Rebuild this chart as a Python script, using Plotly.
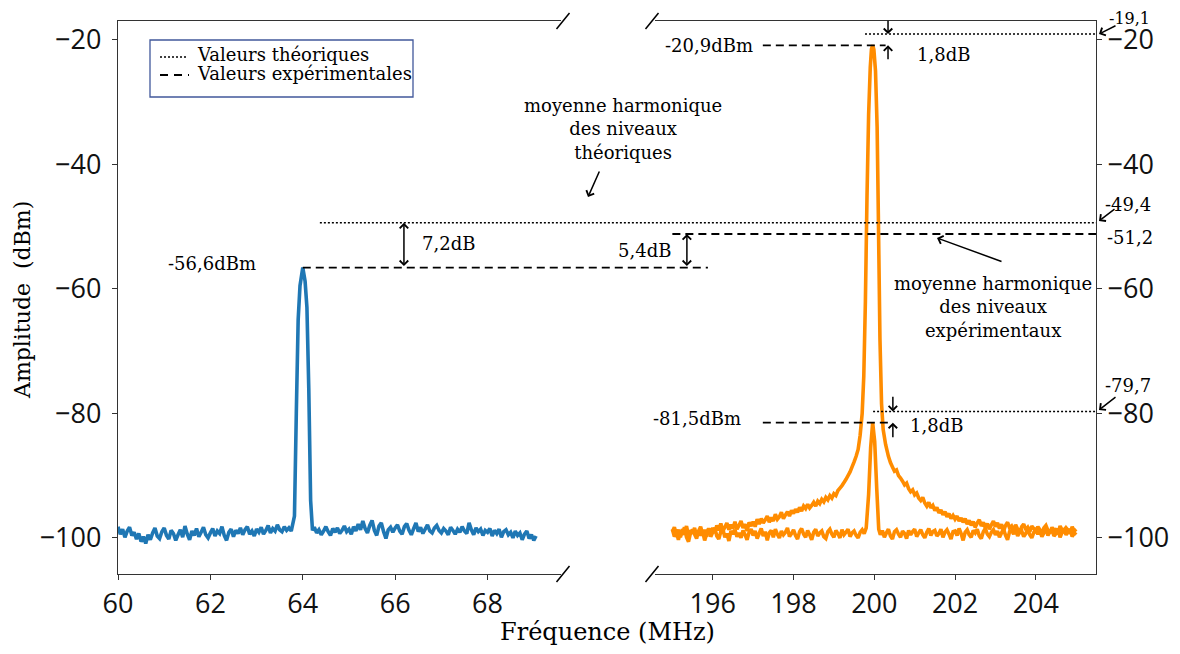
import plotly.graph_objects as go

# ---------------- data ----------------
blue_x = [60.0, 60.05, 60.1, 60.15, 60.2, 60.25, 60.3, 60.35, 60.4, 60.45,
          60.5, 60.55, 60.6, 60.65, 60.7, 60.75, 60.8, 60.85, 60.9, 60.95,
          61.0, 61.05, 61.1, 61.15, 61.2, 61.25, 61.3, 61.35, 61.4, 61.45,
          61.5, 61.55, 61.6, 61.65, 61.7, 61.75, 61.8, 61.85, 61.9, 61.95,
          62.0, 62.05, 62.1, 62.15, 62.2, 62.25, 62.3, 62.35, 62.4, 62.45,
          62.5, 62.55, 62.6, 62.65, 62.7, 62.75, 62.8, 62.85, 62.9, 62.95,
          63.0, 63.05, 63.1, 63.15, 63.2, 63.25, 63.3, 63.35, 63.4, 63.45,
          63.5, 63.55, 63.6, 63.65, 63.7, 63.75,
          63.82, 63.86, 63.90, 63.94, 64.00, 64.05, 64.09, 64.13, 64.17, 64.21,
          64.25, 64.3, 64.35, 64.4, 64.45, 64.5, 64.55, 64.6, 64.65, 64.7,
          64.75, 64.8, 64.85, 64.9, 64.95,
          65.0, 65.05, 65.1, 65.15, 65.2, 65.25, 65.3, 65.35, 65.4, 65.45,
          65.5, 65.55, 65.6, 65.65, 65.7, 65.75, 65.8, 65.85, 65.9, 65.95,
          66.0, 66.05, 66.1, 66.15, 66.2, 66.25, 66.3, 66.35, 66.4, 66.45,
          66.5, 66.55, 66.6, 66.65, 66.7, 66.75, 66.8, 66.85, 66.9, 66.95,
          67.0, 67.05, 67.1, 67.15, 67.2, 67.25, 67.3, 67.35, 67.4, 67.45,
          67.5, 67.55, 67.6, 67.65, 67.7, 67.75, 67.8, 67.85, 67.9, 67.95,
          68.0, 68.05, 68.1, 68.15, 68.2, 68.25, 68.3, 68.35, 68.4, 68.45,
          68.5, 68.55, 68.6, 68.65, 68.7, 68.75, 68.8, 68.85, 68.9, 68.95,
          69.0, 69.05]
blue_y = [-98.2, -99.4, -98.6, -99.9, -98.9, -98.3, -99.6, -99.1, -100.2, -99.3,
          -100.6, -99.8, -100.9, -99.5, -100.3, -99.2, -98.4, -99.7, -100.1, -99.0,
          -98.4, -99.6, -100.2, -98.8, -99.3, -100.4, -99.5, -98.7, -99.9, -98.1,
          -99.4, -100.3, -98.9, -99.6, -98.5, -99.8, -99.1, -98.3, -99.5, -100.0,
          -99.2, -98.5, -99.7, -98.9, -99.3, -98.2, -99.6, -100.4, -99.1, -98.6,
          -99.8, -98.8, -99.3, -98.4, -99.5, -98.7, -98.2, -99.4, -98.9, -99.7,
          -98.6, -99.1, -98.3, -99.4, -98.8, -98.0, -99.2, -98.5, -98.9, -97.9,
          -98.7, -99.0, -98.2, -98.8, -98.4, -98.9,
          -96.5, -80.0, -65.0, -59.5, -56.6, -58.8, -63.0, -76.0, -94.0, -98.8,
          -98.3, -99.2, -98.7, -99.5, -98.9, -98.2, -99.0, -99.6, -98.5, -99.1,
          -98.4, -99.3, -98.8, -98.1, -99.0,
          -98.6, -99.4, -98.2, -98.9, -97.8, -98.7, -97.3, -98.5, -99.2, -98.0,
          -97.2, -98.8, -99.6, -98.1, -97.6, -99.0, -100.1, -98.7, -98.3, -99.1,
          -98.4, -97.9, -98.9, -99.4, -98.2, -97.7, -98.8, -99.5, -98.5, -97.6,
          -99.0, -98.3, -99.3, -98.6, -97.9, -98.9, -99.2, -98.4, -98.0, -98.8,
          -99.2, -98.5, -98.9, -99.5, -98.3, -98.8, -99.4, -98.6, -99.1, -98.2,
          -98.9, -99.3, -97.6, -98.7, -99.5, -98.4, -99.0, -98.6, -99.6, -98.8,
          -99.1, -98.5, -99.7, -98.8, -99.3, -98.6, -99.9, -99.0, -98.7, -99.5,
          -99.1, -100.0, -98.9, -99.6, -99.2, -100.3, -99.4, -98.9, -100.1, -99.5,
          -100.4, -99.7]

low_x = [195.0, 195.05, 195.1, 195.15, 195.2, 195.25, 195.3, 195.35, 195.4, 195.45,
         195.5, 195.55, 195.6, 195.65, 195.7, 195.75, 195.8, 195.85, 195.9, 195.95,
         196.0, 196.05, 196.1, 196.15, 196.2, 196.25, 196.3, 196.35, 196.4, 196.45,
         196.5, 196.55, 196.6, 196.65, 196.7, 196.75, 196.8, 196.85, 196.9, 196.95,
         197.0, 197.05, 197.1, 197.15, 197.2, 197.25, 197.3, 197.35, 197.4, 197.45,
         197.5, 197.55, 197.6, 197.65, 197.7, 197.75, 197.8, 197.85, 197.9, 197.95,
         198.0, 198.05, 198.1, 198.15, 198.2, 198.25, 198.3, 198.35, 198.4, 198.45,
         198.5, 198.55, 198.6, 198.65, 198.7, 198.75, 198.8, 198.85, 198.9, 198.95,
         199.0, 199.05, 199.1, 199.15, 199.2, 199.25, 199.3, 199.35, 199.4, 199.45,
         199.5, 199.55, 199.6, 199.65, 199.7, 199.75,
         199.8, 199.86, 199.91, 199.96, 200.01, 200.06, 200.11,
         200.15, 200.2, 200.25, 200.3, 200.35, 200.4, 200.45, 200.5, 200.55, 200.6,
         200.65, 200.7, 200.75, 200.8, 200.85, 200.9, 200.95,
         201.0, 201.05, 201.1, 201.15, 201.2, 201.25, 201.3, 201.35, 201.4, 201.45,
         201.5, 201.55, 201.6, 201.65, 201.7, 201.75, 201.8, 201.85, 201.9, 201.95,
         202.0, 202.05, 202.1, 202.15, 202.2, 202.25, 202.3, 202.35, 202.4, 202.45,
         202.5, 202.55, 202.6, 202.65, 202.7, 202.75, 202.8, 202.85, 202.9, 202.95,
         203.0, 203.05, 203.1, 203.15, 203.2, 203.25, 203.3, 203.35, 203.4, 203.45,
         203.5, 203.55, 203.6, 203.65, 203.7, 203.75, 203.8, 203.85, 203.9, 203.95,
         204.0, 204.05, 204.1, 204.15, 204.2, 204.25, 204.3, 204.35, 204.4, 204.45,
         204.5, 204.55, 204.6, 204.65, 204.7, 204.75, 204.8, 204.85, 204.9, 204.95, 205.0]
low_y = [-98.6, -99.8, -99.1, -100.3, -98.9, -99.5, -98.3, -99.9, -100.6, -99.2,
         -98.7, -99.4, -100.1, -98.8, -99.6, -99.0, -100.4, -99.3, -98.5, -99.8,
         -99.1, -98.4, -99.7, -100.2, -99.0, -98.6, -99.9, -99.3, -100.5, -98.9,
         -99.4, -98.7, -99.8, -99.2, -100.0, -98.8, -99.5, -100.3, -99.1, -98.6,
         -99.6, -98.9, -100.1, -99.3, -98.5, -99.7, -99.0, -100.4, -99.2, -98.8,
         -99.9, -98.6, -99.4, -100.0, -98.9, -99.5, -99.1, -98.4, -99.8, -99.3,
         -98.7, -99.6, -100.2, -99.0, -98.5, -99.4, -99.9, -98.8, -99.5, -100.3,
         -99.1, -98.6, -99.7, -99.2, -98.9, -99.8, -100.1, -99.0, -98.6, -99.4,
         -99.9, -98.8, -99.3, -100.0, -98.7, -99.5, -99.1, -98.6, -99.8, -99.2,
         -98.9, -99.6, -100.0, -99.1, -98.7, -99.3,
         -98.4, -93.0, -85.5, -81.5, -84.5, -92.0, -98.6,
         -99.5, -98.8, -99.9, -99.2, -98.6, -99.7, -100.2, -99.0, -98.7, -99.4,
         -99.9, -98.9, -99.3, -100.1, -98.8, -99.5, -99.0,
         -98.6, -99.8, -99.2, -98.7, -99.5, -100.0, -99.1, -98.5, -99.6, -99.0,
         -98.8, -99.7, -99.3, -98.6, -99.9, -99.1, -98.7, -99.4, -100.2, -99.0,
         -98.9, -99.6, -98.5, -99.3, -100.4, -99.1, -98.7, -99.5, -99.9, -98.8,
         -99.2, -98.6, -99.7, -100.1, -99.0, -98.5, -99.4, -99.8, -99.1, -98.7,
         -99.5, -98.9, -99.9, -99.2, -98.6, -99.6, -100.3, -99.0, -98.8, -99.4,
         -98.5, -99.7, -99.1, -98.9, -99.8, -99.3, -98.6, -99.5, -100.0, -99.1,
         -98.7, -99.4, -98.9, -99.8, -99.2, -98.5, -99.6, -99.0, -98.8, -99.7,
         -99.3, -98.6, -99.9, -99.1, -98.7, -99.5, -99.0, -98.6, -99.8, -99.2, -99.5]

high_x = [195.0, 195.05, 195.1, 195.15, 195.2, 195.25, 195.3, 195.35, 195.4, 195.45,
          195.5, 195.55, 195.6, 195.65, 195.7, 195.75, 195.8, 195.85, 195.9, 195.95,
          196.0, 196.05, 196.1, 196.15, 196.2, 196.25, 196.3, 196.35, 196.4, 196.45,
          196.5, 196.55, 196.6, 196.65, 196.7, 196.75, 196.8, 196.85, 196.9, 196.95,
          197.0, 197.05, 197.1, 197.15, 197.2, 197.25, 197.3, 197.35, 197.4, 197.45,
          197.5, 197.55, 197.6, 197.65, 197.7, 197.75, 197.8, 197.85, 197.9, 197.95,
          198.0, 198.05, 198.1, 198.15, 198.2, 198.25, 198.3, 198.35, 198.4, 198.45,
          198.5, 198.55, 198.6, 198.65, 198.7, 198.75, 198.8, 198.85, 198.9, 198.95,
          199.0, 199.05, 199.1, 199.15, 199.2, 199.25, 199.3, 199.35, 199.4, 199.45,
          199.5, 199.55, 199.6,
          199.65, 199.7, 199.74, 199.78, 199.82, 199.86, 199.9, 199.93, 199.96, 199.99,
          200.03, 200.07, 200.1, 200.14, 200.18, 200.22, 200.28, 200.35, 200.4,
          200.45, 200.5, 200.55, 200.6, 200.65, 200.7, 200.75, 200.8, 200.85, 200.9, 200.95,
          201.0, 201.05, 201.1, 201.15, 201.2, 201.25, 201.3, 201.35, 201.4, 201.45,
          201.5, 201.55, 201.6, 201.65, 201.7, 201.75, 201.8, 201.85, 201.9, 201.95,
          202.0, 202.05, 202.1, 202.15, 202.2, 202.25, 202.3, 202.35, 202.4, 202.45,
          202.5, 202.55, 202.6, 202.65, 202.7, 202.75, 202.8, 202.85, 202.9, 202.95,
          203.0, 203.05, 203.1, 203.15, 203.2, 203.25, 203.3, 203.35, 203.4, 203.45,
          203.5, 203.55, 203.6, 203.65, 203.7, 203.75, 203.8, 203.85, 203.9, 203.95,
          204.0, 204.05, 204.1, 204.15, 204.2, 204.25, 204.3, 204.35, 204.4, 204.45,
          204.5, 204.55, 204.6, 204.65, 204.7, 204.75, 204.8, 204.85, 204.9, 204.95, 205.0]
high_y = [-99.0, -98.3, -99.5, -98.7, -99.9, -98.6, -99.2, -98.1, -99.6, -98.8,
          -99.3, -98.4, -99.7, -98.9, -98.2, -99.4, -98.7, -99.8, -98.5, -99.1,
          -98.4, -99.2, -98.0, -98.8, -97.7, -98.9, -98.3, -97.6, -98.7, -97.9,
          -98.5, -97.4, -98.6, -98.0, -97.3, -98.4, -97.8, -98.9, -97.5, -98.1,
          -97.4, -98.2, -97.0, -97.8, -96.9, -97.6, -97.1, -96.5, -97.5, -96.7,
          -97.3, -96.2, -97.0, -96.6, -95.9, -96.9, -96.3, -95.8, -96.5, -95.6,
          -96.1, -95.4, -95.9, -95.1, -95.7, -94.9, -95.3, -94.6, -95.2, -94.8,
          -94.3, -94.9, -94.1, -94.5, -93.8, -94.2, -93.5, -93.9, -93.2, -93.6,
          -92.9, -93.2, -92.4, -92.0, -91.6, -91.1, -90.6, -90.0, -89.4, -88.6,
          -87.8, -86.9, -85.8,
          -83.5, -80.0, -74.0, -62.0, -45.0, -32.0, -24.5, -21.5, -20.9, -21.6,
          -25.0, -34.0, -48.0, -68.0, -78.5, -82.6, -85.0, -86.9, -87.9,
          -88.6, -89.3, -89.1, -90.0, -90.4, -90.9, -91.5, -91.2, -92.1, -92.6, -92.3,
          -93.1, -92.8, -93.6, -94.0, -93.5, -94.4, -94.9, -94.3, -95.2, -94.8,
          -95.6, -95.1, -96.0, -95.5, -96.3, -95.8, -96.6, -96.1, -96.9, -96.4,
          -97.0, -96.5, -97.3, -96.8, -97.5, -96.9, -97.8, -97.2, -98.0, -97.4,
          -98.3, -97.6, -97.1, -98.1, -97.5, -98.4, -97.7, -98.6, -97.9, -97.3,
          -98.2, -97.6, -98.5, -97.8, -98.9, -98.0, -97.5, -98.4, -98.1, -98.8,
          -97.9, -98.6, -99.1, -98.2, -97.8, -98.7, -98.3, -99.0, -98.1, -98.5,
          -98.9, -98.2, -98.7, -99.3, -98.4, -98.0, -98.8, -99.2, -98.3, -98.9,
          -98.5, -99.4, -98.1, -98.7, -99.0, -98.4, -98.8, -99.3, -98.2, -98.9, -98.6]

assert len(blue_x) == len(blue_y) and len(low_x) == len(low_y) and len(high_x) == len(high_y)

left_ticks = [60, 62, 64, 66, 68]
right_ticks = [196, 198, 200, 202, 204]
y_ticks = [-20, -40, -60, -80, -100]

# levels (dBm)
theo_fund, exp_fund = -19.1, -20.9
theo_mean, exp_mean = -49.4, -51.2
exp_64 = -56.6
theo_low, exp_low = -79.7, -81.5

# ---------------- layout geometry ----------------
# the page body has an 8px default margin: the figure is sized so that its
# plot area lands at the reference's window pixels
OFF = 8
W, H = 1180 - OFF, 654 - OFF
ML, MR, MT, MB = 118 - OFF, 84, 21 - OFF, 80
PW, PH = W - ML - MR, H - MT - MB

def px(xp):
    return (xp - OFF - ML) / PW

def py(yp):
    return (OFF + H - MB - yp) / PH

LEFT_DOMAIN = [0, px(561)]
RIGHT_DOMAIN = [px(655), 1]
LEFT_RANGE = [60, 69.59]
RIGHT_RANGE = [194.57, 205.49]
Y_RANGE = [-105.8, -17.0]

def lx(v):
    return LEFT_DOMAIN[0] + (v - LEFT_RANGE[0]) / (LEFT_RANGE[1] - LEFT_RANGE[0]) * (LEFT_DOMAIN[1] - LEFT_DOMAIN[0])

def rx(v):
    return RIGHT_DOMAIN[0] + (v - RIGHT_RANGE[0]) / (RIGHT_RANGE[1] - RIGHT_RANGE[0]) * (RIGHT_DOMAIN[1] - RIGHT_DOMAIN[0])

SERIF = "DejaVu Serif"
SANS = "Open Sans"
BLUE = "#1f77b4"
ORANGE = "#ff8c00"
AX = "#333333"
DOT = "2px,2px"
DASH = "8px,5px"

fig = go.Figure()
fig.add_trace(go.Scatter(x=blue_x, y=blue_y, mode="lines", xaxis="x", yaxis="y",
                         line=dict(color=BLUE, width=3.6, simplify=False), showlegend=False))
fig.add_trace(go.Scatter(x=low_x, y=low_y, mode="lines", xaxis="x2", yaxis="y2",
                         line=dict(color=ORANGE, width=3.6, simplify=False), showlegend=False))
fig.add_trace(go.Scatter(x=high_x, y=high_y, mode="lines", xaxis="x2", yaxis="y2",
                         line=dict(color=ORANGE, width=3.6, simplify=False), showlegend=False))

axis_common = dict(showgrid=False, zeroline=False, showline=True, linecolor=AX, linewidth=1.3,
                   ticks="outside", ticklen=5, tickcolor=AX, tickwidth=1.2,
                   tickfont=dict(family=SANS, size=27, color="#111"))

fig.update_layout(
    width=W, height=H,
    margin=dict(l=ML, r=MR, t=MT, b=MB, autoexpand=False),
    paper_bgcolor="white", plot_bgcolor="white",
    showlegend=False,
    xaxis=dict(domain=LEFT_DOMAIN, range=LEFT_RANGE, tickvals=left_ticks, mirror=True,
               anchor="y", **axis_common),
    yaxis=dict(domain=[0, 1], range=Y_RANGE, tickvals=y_ticks, anchor="x",
               ticklabelstandoff=5, **axis_common),
    xaxis2=dict(domain=RIGHT_DOMAIN, range=RIGHT_RANGE, tickvals=right_ticks, mirror=True,
                anchor="y2", **axis_common),
    yaxis2=dict(domain=[0, 1], range=Y_RANGE, tickvals=y_ticks, anchor="x2", side="right",
                ticklabelstandoff=0, **axis_common),
)

shapes = []

def hline(x0, x1, y, xref, dash, width):
    shapes.append(dict(type="line", xref=xref, yref="y", x0=x0, x1=x1, y0=y, y1=y,
                       line=dict(color="black", width=width, dash=dash)))

# theoretical (dotted) and experimental (dashed) levels
hline(199.77, RIGHT_RANGE[1], theo_fund, "x2", DOT, 1.5)
hline(197.24, 200.28, exp_fund, "x2", DASH, 1.8)
hline(lx(64.37), 1.0, theo_mean, "paper", DOT, 1.5)
hline(195.0, RIGHT_RANGE[1], exp_mean, "x2", DASH, 1.8)
hline(lx(64.0), rx(195.88), exp_64, "paper", DASH, 1.8)
hline(199.97, RIGHT_RANGE[1], theo_low, "x2", DOT, 1.5)
hline(197.24, 200.46, exp_low, "x2", DASH, 1.8)

# axis break marks
for cxp in (563, 652):
    for cyp in (21, 574):
        shapes.append(dict(type="line", xref="paper", yref="paper",
                           x0=px(cxp - 6.5), y0=py(cyp + 8), x1=px(cxp + 6.5), y1=py(cyp - 8),
                           line=dict(color="black", width=1.5)))

# legend box
shapes.append(dict(type="rect", xref="paper", yref="paper", x0=px(150), x1=px(413),
                   y0=py(97), y1=py(40), line=dict(color="#41589B", width=1.3)))
shapes.append(dict(type="line", xref="paper", yref="paper", x0=px(160), x1=px(186),
                   y0=py(57), y1=py(57), line=dict(color="black", width=1.4, dash=DOT)))
shapes.append(dict(type="line", xref="paper", yref="paper", x0=px(160), x1=px(189),
                   y0=py(75), y1=py(75), line=dict(color="black", width=1.8, dash="8px,6px")))
fig.update_layout(shapes=shapes)

ann = []

def text(x, y, t, xref, yref, xanchor="center", size=18):
    ann.append(dict(x=x, y=y, xref=xref, yref=yref, text=t, showarrow=False,
                    xanchor=xanchor, yanchor="middle",
                    font=dict(family=SERIF, size=size, color="black")))

def arrow_data(x, y0, y1, xr, yr, both=False):
    ann.append(dict(x=x, y=y1, ax=x, ay=y0, xref=xr, yref=yr, axref=xr, ayref=yr,
                    text="", showarrow=True, arrowhead=4, arrowsize=1.1, arrowwidth=1.5,
                    arrowcolor="black", standoff=0, startstandoff=0,
                    arrowside="end+start" if both else "end", startarrowhead=4,
                    startarrowsize=1.1))

def arrow_px(hx, hy, tx, ty):
    ann.append(dict(x=px(hx), y=py(hy), xref="paper", yref="paper", ax=tx - hx, ay=ty - hy,
                    text="", showarrow=True, arrowhead=4, arrowsize=1.1, arrowwidth=1.5,
                    arrowcolor="black", standoff=0))

# legend texts
text(px(195), py(55), "Valeurs théoriques", "paper", "paper", "left")
text(px(195), py(74), "Valeurs expérimentales", "paper", "paper", "left")

# fundamental labels
text(197.05, exp_fund, "-20,9dBm", "x2", "y2", "right")
text(201.0, -22.4, "1,8dB", "x2", "y2", "left")
arrow_data(200.34, -16.7, theo_fund, "x2", "y2")
arrow_data(200.34, -23.4, exp_fund, "x2", "y2")
text(px(1129), py(18), "-19,1", "paper", "paper", size=16)
arrow_px(1099, 34, 1117, 25)

# harmonic mean labels
text(px(623), py(129), "moyenne harmonique<br>des niveaux<br>théoriques", "paper", "paper")
arrow_px(588, 197, 600, 170)
text(px(1128), py(205), "-49,4", "paper", "paper")
arrow_px(1099, 221, 1116, 208)
text(px(1130), py(237), "-51,2", "paper", "paper")
text(202.94, -63.0, "moyenne harmonique<br>des niveaux<br>expérimentaux", "x2", "y2")
arrow_px(937, 238, 1003, 262)

# 64 MHz labels
text(62.03, -56.0, "-56,6dBm", "x", "y")
text(66.54, -52.8, "7,2dB", "x", "y", "left")
arrow_data(66.19, exp_64, theo_mean, "x", "y", both=True)
text(195.02, -53.8, "5,4dB", "x2", "y2", "right")
arrow_data(195.36, exp_64, exp_mean, "x2", "y2", both=True)

# low level labels
text(196.75, -80.9, "-81,5dBm", "x2", "y2", "right")
text(200.83, -81.9, "1,8dB", "x2", "y2", "left")
arrow_data(200.46, -77.1, theo_low, "x2", "y2")
arrow_data(200.46, -84.1, exp_low, "x2", "y2")
text(px(1128), py(385), "-79,7", "paper", "paper")
arrow_px(1099, 410, 1117, 396)

# axis titles
text(px(607), py(632), "Fréquence (MHz)", "paper", "paper", size=24)
ann.append(dict(x=px(22), y=py(300), xref="paper", yref="paper", text="Amplitude\u00a0 (dBm)",
                showarrow=False, textangle=-90, xanchor="center", yanchor="middle",
                font=dict(family=SERIF, size=22, color="black")))

fig.update_layout(annotations=ann)
fig.write_html("out.html")
